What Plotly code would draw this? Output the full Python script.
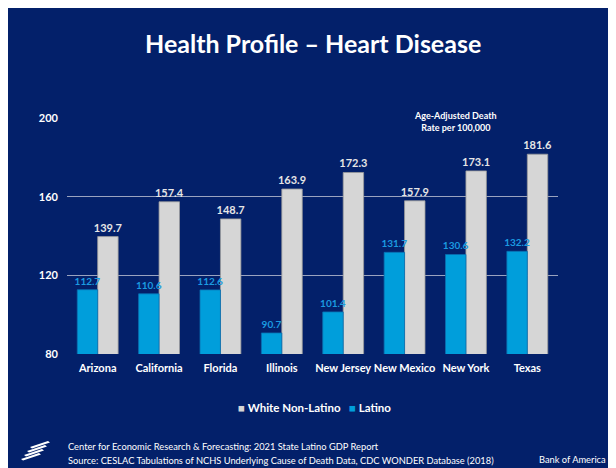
import plotly.graph_objects as go

states = ["Arizona", "California", "Florida", "Illinois", "New Jersey", "New Mexico", "New York", "Texas"]
latino = [112.7, 110.6, 112.6, 90.7, 101.4, 131.7, 130.6, 132.2]
white_non_latino = [139.7, 157.4, 148.7, 163.9, 172.3, 157.9, 173.1, 181.6]
y_ticks = [80, 120, 160, 200]

NAVY = "#03206a"
BLUE = "#009edb"
GREY = "#d6d6d6"
FONT = "Lato"

OFF = 8  # page body margin
W, H = 616, 468
L, R, T, B = 59, 66, 110, 122
pw, ph = W - L - R, H - T - B

def px(x):  # page pixel -> paper
    return (x - OFF - L) / pw

def py(y):
    return (H - B - (y - OFF)) / ph

BW = 0.333

fig = go.Figure()
fig.add_trace(go.Bar(
    x=states, y=white_non_latino, name="White Non-Latino",
    offset=0, width=BW,
    marker=dict(color=GREY, line=dict(color="#9a9a9a", width=0.8)),
    text=[f"{v:.1f}" for v in white_non_latino], textposition="outside", constraintext="none",
    textfont=dict(color="#e6e6e6", size=11, family=FONT, weight="bold"),
    cliponaxis=False, showlegend=False,
))
fig.add_trace(go.Bar(
    x=states, y=latino, name="Latino",
    offset=-BW, width=BW,
    marker=dict(color=BLUE, line=dict(color="#0a6fb0", width=0.8)),
    text=[f"{v:.1f}" for v in latino], textposition="outside", constraintext="none",
    textfont=dict(color="#1b9be0", size=10, family=FONT, weight="bold"),
    cliponaxis=False, showlegend=False,
))

fig.update_layout(
    width=W, height=H, autosize=False,
    margin=dict(l=L, r=R, t=T, b=B),
    paper_bgcolor=NAVY, plot_bgcolor=NAVY,
    barmode="overlay",
    font=dict(family=FONT, color="white"),
    showlegend=False,
    xaxis=dict(showgrid=False, showline=False, ticks="", zeroline=False, ticklabelstandoff=6,
               range=[-0.5, len(states) - 0.5],
               tickfont=dict(size=11, color="white", family=FONT, weight="bold")),
    yaxis=dict(range=[80, 200], tickvals=y_ticks, showgrid=True, gridcolor="#9aa3bf", gridwidth=1,
               zeroline=False, showline=False, ticks="", ticklabelstandoff=8,
               tickfont=dict(size=11, color="white", family=FONT, weight="bold")),
)

legend_text = (f"<span style='color:{GREY}'>■</span> White Non-Latino   "
               f"<span style='color:{BLUE}'>■</span> Latino")

annos = [
    dict(text="Health Profile – Heart Disease", x=px(313), y=py(43), xanchor="center", yanchor="middle",
         font=dict(size=25, color="white", family=FONT, weight="bold")),
    dict(text="Age-Adjusted Death<br>Rate per 100,000", x=px(455), y=py(122), xanchor="center", yanchor="middle",
         font=dict(size=9, color="white", family=FONT, weight="bold")),
    dict(text=legend_text, x=px(314), y=py(407), xanchor="center", yanchor="middle",
         font=dict(size=11.5, color="white", family=FONT, weight="bold")),
    dict(text="Center for Economic Research & Forecasting: 2021 State Latino GDP Report", x=px(66), y=py(446),
         xanchor="left", yanchor="middle", font=dict(size=9.3, color="white", family=FONT)),
    dict(text="Source: CESLAC Tabulations of NCHS Underlying Cause of Death Data, CDC WONDER Database (2018)",
         x=px(66), y=py(460), xanchor="left", yanchor="middle", font=dict(size=9.3, color="white", family=FONT)),
    dict(text="Bank of America", x=px(608), y=py(459), xanchor="right", yanchor="middle",
         font=dict(size=9.3, color="white", family=FONT)),
]
for a in annos:
    a.update(xref="paper", yref="paper", showarrow=False)
fig.update_layout(annotations=annos)

shapes = []
# simple flag-like logo
for (x0, y0) in [(30, 447), (27, 451), (24, 455), (21, 459)]:
    shapes.append(dict(type="path",
                       path=f"M {px(x0)} {py(y0)} L {px(x0+18)} {py(y0-6)} L {px(x0+20)} {py(y0-4.5)} L {px(x0+2)} {py(y0+1.5)} Z",
                       xref="paper", yref="paper", fillcolor="white", line=dict(width=0)))
fig.update_layout(shapes=shapes)

fig.write_html("out.html")
